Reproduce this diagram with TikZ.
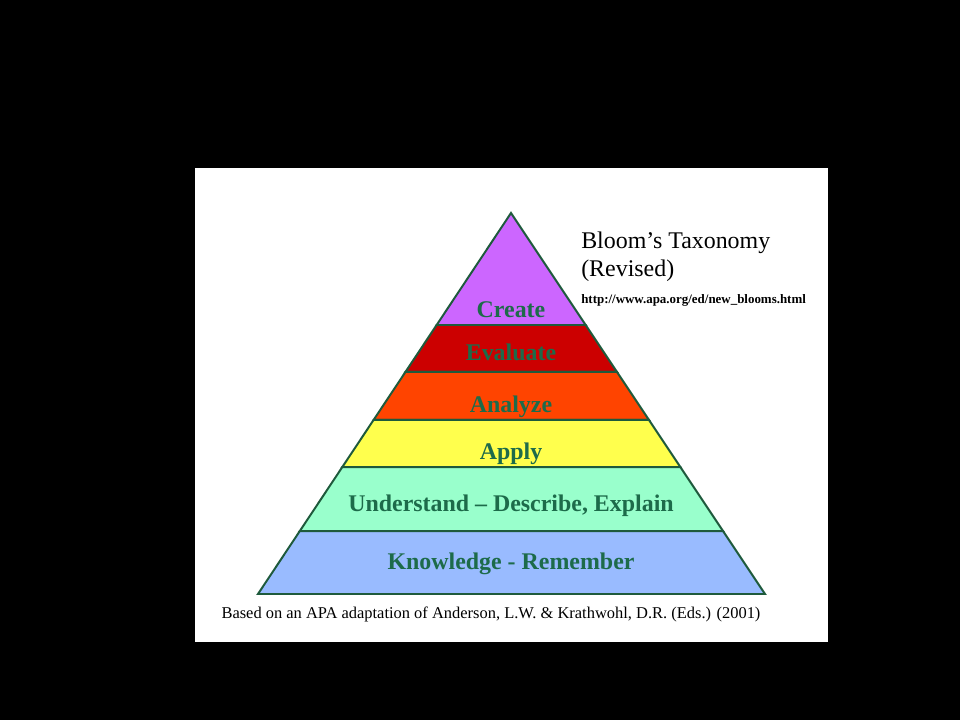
\documentclass[tikz,border=0pt]{standalone}
\usepackage{fontspec}
\setmainfont{Liberation Serif}
\usepackage{tikz}
\usetikzlibrary{calc, positioning}
\definecolor{createPurple}{HTML}{CC66FF}
\definecolor{evalRed}{HTML}{CC0000}
\definecolor{analyzeOrange}{HTML}{FF4400}
\definecolor{applyYellow}{HTML}{FFFF4D}
\definecolor{underGreen}{HTML}{99FFCC}
\definecolor{knowBlue}{HTML}{99BBFF}
\definecolor{labelGreen}{HTML}{1D6B4A}
\definecolor{edgeGreen}{HTML}{1E5A3C}
\tikzset{
    pyrEdge/.style={draw=edgeGreen, line width=1.4pt, line join=miter},
    layerText/.style={font=\fontsize{17}{19}\selectfont\bfseries, text=labelGreen, inner sep=0pt, text height=0.7em, text depth=0.2em},
    titleText/.style={font=\fontsize{17}{19}\selectfont, anchor=west, inner sep=0pt},
    urlText/.style={font=\fontsize{9.2}{10}\selectfont\bfseries, anchor=west, inner sep=0pt},
    sourceText/.style={font=\fontsize{11.7}{13}\selectfont, inner sep=0pt},
}
% top t, bottom t, fill, label t, name, label
\newcommand{\drawLayer}[6]{
    \filldraw[pyrEdge, fill=#3] ($(apex)!#1!(bl)$) -- ($(apex)!#1!(br)$) -- ($(apex)!#2!(br)$) -- ($(apex)!#2!(bl)$) -- cycle;
    \node[layerText] (#5) at ($(apex)!#4!(bm)$) {#6};
}
\begin{document}
\begin{tikzpicture}[x=0.025cm, y=-0.025cm]

    % background
    \fill[black] (0,0) rectangle (960,720);
    \fill[white] (195,168) rectangle (828,642);

    % pyramid
    \coordinate (apex) at (511,213);
    \coordinate (bl) at (258,594);
    \coordinate (br) at (765,594);
    \coordinate (bm) at (511,594);

    \drawLayer{0}{0.294}{createPurple}{0.265}{create}{Create}
    \drawLayer{0.294}{0.417}{evalRed}{0.378}{evaluate}{Evaluate}
    \drawLayer{0.417}{0.543}{analyzeOrange}{0.514}{analyze}{Analyze}
    \drawLayer{0.543}{0.667}{applyYellow}{0.637}{apply}{Apply}
    \drawLayer{0.667}{0.835}{underGreen}{0.774}{understand}{Understand -- Describe, Explain}
    \drawLayer{0.835}{1}{knowBlue}{0.926}{knowledge}{Knowledge - Remember}

    % title
    \node[titleText] (title) at (581,243) {Bloom’s Taxonomy};
    \node[titleText] (revised) at (581,271) {(Revised)};
    \node[urlText] (url) at (581,300) {http://www.apa.org/ed/new\_blooms.html};

    \node[sourceText] (source) at (491,614) {Based on an APA adaptation of Anderson, L.W. \& Krathwohl, D.R. (Eds.) (2001)};

\end{tikzpicture}
\end{document}
